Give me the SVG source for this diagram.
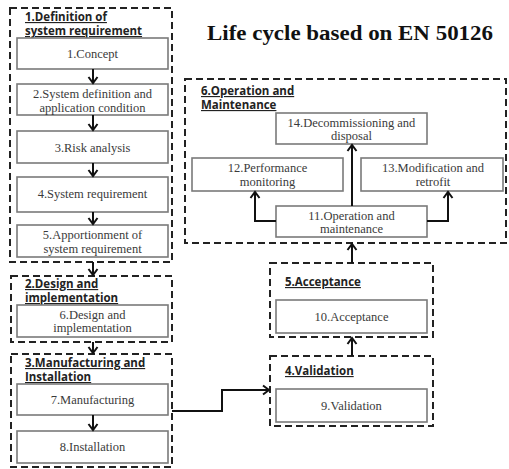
<svg xmlns="http://www.w3.org/2000/svg" width="509" height="469" viewBox="0 0 509 469">
<style>
.grp{fill:none;stroke:#222;stroke-width:2;stroke-dasharray:7 4}
.box{fill:#fff;stroke:#7a7a7a;stroke-width:1.6}
.bt{font-family:"Liberation Serif","Times New Roman",serif;font-size:12.5px;fill:#3a3a3a;text-anchor:middle}
.gt{font-family:"Open Sans","Noto Sans",sans-serif;font-weight:bold;font-size:11.5px;fill:#222;text-decoration:underline}
.ttl{font-family:"Liberation Serif",serif;font-weight:bold;font-size:20px;fill:#111;text-anchor:middle}
.con{fill:none;stroke:#111;stroke-width:2;marker-end:url(#ah)}
</style>
<defs>
<marker id="ah" markerUnits="userSpaceOnUse" markerWidth="12" markerHeight="12" refX="10" refY="6" orient="auto">
<path d="M4,1.5 L10,6 L4,10.5" fill="none" stroke="#111" stroke-width="2"/>
</marker>
</defs>
<rect width="509" height="469" fill="#fff"/>
<text class="ttl" x="350" y="40" textLength="286" lengthAdjust="spacingAndGlyphs">Life cycle based on EN 50126</text>

<g id="group1">
<rect class="grp" x="10" y="8" width="162" height="254"/>
<text class="gt" x="25" y="21">1.Definition of</text>
<text class="gt" x="25" y="35">system requirement</text>
</g>
<g id="n1"><rect class="box" x="17" y="38" width="151" height="31"/><text class="bt" x="92.5" y="58">1.Concept</text></g>
<g id="n2"><rect class="box" x="17" y="84" width="151" height="31"/><text class="bt" x="92.5" y="98">2.System definition and</text><text class="bt" x="92.5" y="112">application condition</text></g>
<g id="n3"><rect class="box" x="17" y="131" width="151" height="32"/><text class="bt" x="92.5" y="152">3.Risk analysis</text></g>
<g id="n4"><rect class="box" x="17" y="177" width="151" height="35"/><text class="bt" x="92.5" y="198">4.System requirement</text></g>
<g id="n5"><rect class="box" x="17" y="225" width="151" height="32"/><text class="bt" x="92.5" y="239">5.Apportionment of</text><text class="bt" x="92.5" y="253">system requirement</text></g>

<g id="group2">
<rect class="grp" x="11" y="276" width="161" height="66"/>
<text class="gt" x="25" y="288">2.Design and</text>
<text class="gt" x="25" y="302">implementation</text>
</g>
<g id="n6"><rect class="box" x="17" y="305" width="151" height="32"/><text class="bt" x="92.5" y="319">6.Design and</text><text class="bt" x="92.5" y="332">implementation</text></g>

<g id="group3">
<rect class="grp" x="11" y="354" width="161" height="113"/>
<text class="gt" x="25" y="367">3.Manufacturing and</text>
<text class="gt" x="25" y="381">Installation</text>
</g>
<g id="n7"><rect class="box" x="17" y="384" width="151" height="31"/><text class="bt" x="92.5" y="404">7.Manufacturing</text></g>
<g id="n8"><rect class="box" x="17" y="431" width="151" height="32"/><text class="bt" x="92.5" y="451">8.Installation</text></g>

<g id="group4">
<rect class="grp" x="270" y="356" width="163" height="70"/>
<text class="gt" x="285" y="375">4.Validation</text>
</g>
<g id="n9"><rect class="box" x="276" y="389" width="151" height="33"/><text class="bt" x="351.5" y="410">9.Validation</text></g>

<g id="group5">
<rect class="grp" x="270" y="263" width="163" height="74"/>
<text class="gt" x="285" y="286">5.Acceptance</text>
</g>
<g id="n10"><rect class="box" x="276" y="300" width="151" height="33"/><text class="bt" x="351.5" y="321">10.Acceptance</text></g>

<g id="group6">
<rect class="grp" x="185" y="79" width="321" height="164"/>
<text class="gt" x="201" y="95">6.Operation and</text>
<text class="gt" x="201" y="109">Maintenance</text>
</g>
<g id="n14"><rect class="box" x="276" y="113" width="151" height="31"/><text class="bt" x="351.5" y="127">14.Decommissioning and</text><text class="bt" x="351.5" y="140">disposal</text></g>
<g id="n12"><rect class="box" x="192" y="158" width="151" height="33"/><text class="bt" x="267.5" y="172">12.Performance</text><text class="bt" x="267.5" y="186">monitoring</text></g>
<g id="n13"><rect class="box" x="361" y="158" width="142" height="33"/><text class="bt" x="433" y="172">13.Modification and</text><text class="bt" x="433" y="186">retrofit</text></g>
<g id="n11"><rect class="box" x="276" y="206" width="151" height="31"/><text class="bt" x="351.5" y="220">11.Operation and</text><text class="bt" x="351.5" y="233">maintenance</text></g>

<g id="connectors">
<path class="con" d="M93,69 V83"/>
<path class="con" d="M93,115 V130"/>
<path class="con" d="M93,163 V176"/>
<path class="con" d="M93,212 V224"/>
<path class="con" d="M93,262 V275"/>
<path class="con" d="M93,342 V353"/>
<path class="con" d="M93,415 V430"/>
<path class="con" d="M172,411 H222 V390 H269"/>
<path class="con" d="M352,356 V338"/>
<path class="con" d="M352,263 V244"/>
<path class="con" d="M352,206 V145"/>
<path class="con" d="M276,221 H255 V192"/>
<path class="con" d="M427,221 H448 V192"/>
</g>
</svg>
